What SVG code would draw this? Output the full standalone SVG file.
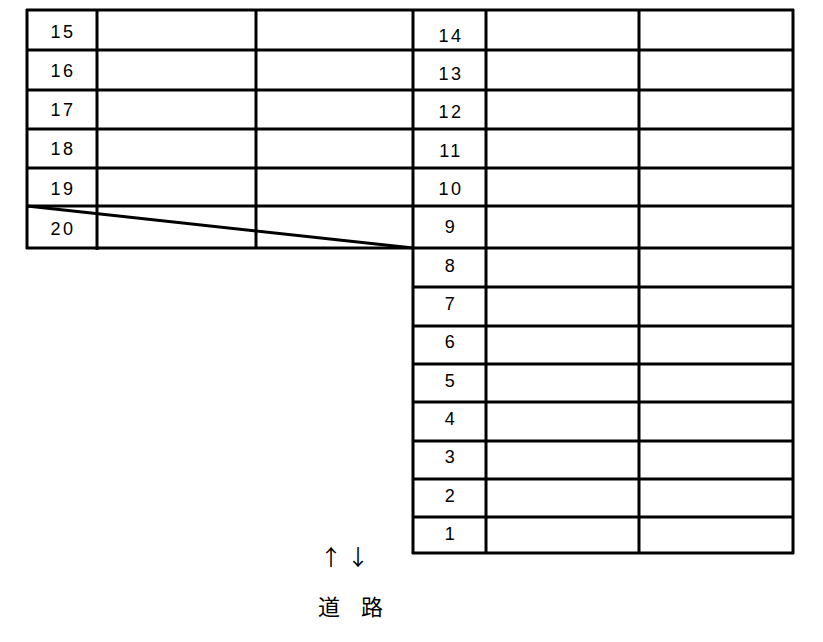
<svg xmlns="http://www.w3.org/2000/svg" width="823" height="642" viewBox="0 0 823 642">
<style>
.g line{stroke:#000;stroke-width:3;fill:none}
.n{font-family:"Liberation Sans",Arial,sans-serif;font-size:18px;letter-spacing:2.5px;text-anchor:middle;fill:#000}
.r{font-family:"Noto Sans CJK JP","Noto Sans CJK SC",sans-serif;font-size:22px;fill:#000}
</style>
<rect width="823" height="642" fill="#fff"/>
<g id="grid" class="g">
<line x1="26" y1="10" x2="794" y2="10"/>
<line x1="27" y1="50" x2="793" y2="50"/>
<line x1="27" y1="90" x2="793" y2="90"/>
<line x1="27" y1="129" x2="793" y2="129"/>
<line x1="27" y1="168" x2="793" y2="168"/>
<line x1="27" y1="206" x2="793" y2="206"/>
<line x1="26" y1="248" x2="793" y2="248"/>
<line x1="413" y1="287" x2="793" y2="287"/>
<line x1="413" y1="326" x2="793" y2="326"/>
<line x1="413" y1="364" x2="793" y2="364"/>
<line x1="413" y1="402" x2="793" y2="402"/>
<line x1="413" y1="441" x2="793" y2="441"/>
<line x1="413" y1="479" x2="793" y2="479"/>
<line x1="413" y1="517" x2="793" y2="517"/>
<line x1="412" y1="553" x2="794" y2="553"/>
<line x1="27" y1="9" x2="27" y2="249"/>
<line x1="97" y1="9" x2="97" y2="250"/>
<line x1="256" y1="9" x2="256" y2="249"/>
<line x1="413" y1="9" x2="413" y2="554"/>
<line x1="486" y1="9" x2="486" y2="554"/>
<line x1="639" y1="9" x2="639" y2="554"/>
<line x1="793" y1="9" x2="793" y2="554"/>
<line x1="27" y1="206" x2="413" y2="248"/>
</g>
<g id="labels-left">
<text class="n" x="63" y="38">15</text>
<text class="n" x="63" y="77">16</text>
<text class="n" x="63" y="116">17</text>
<text class="n" x="63" y="155">18</text>
<text class="n" x="63" y="195">19</text>
<text class="n" x="63" y="235">20</text>
</g>
<g id="labels-right">
<text class="n" x="451" y="42">14</text>
<text class="n" x="451" y="80">13</text>
<text class="n" x="451" y="118">12</text>
<text class="n" x="451" y="157">11</text>
<text class="n" x="451" y="195">10</text>
<text class="n" x="451" y="233">9</text>
<text class="n" x="451" y="272">8</text>
<text class="n" x="451" y="310">7</text>
<text class="n" x="451" y="348">6</text>
<text class="n" x="451" y="387">5</text>
<text class="n" x="451" y="425">4</text>
<text class="n" x="451" y="463">3</text>
<text class="n" x="451" y="502">2</text>
<text class="n" x="451" y="540">1</text>
</g>
<g id="road">
<text class="r" x="320" y="565" font-size="20" fill="#777">↑</text>
<text class="r" x="347" y="565" font-size="20">↓</text>
<text class="r" x="318" y="615">道</text>
<text class="r" x="361" y="615">路</text>
</g>
</svg>
